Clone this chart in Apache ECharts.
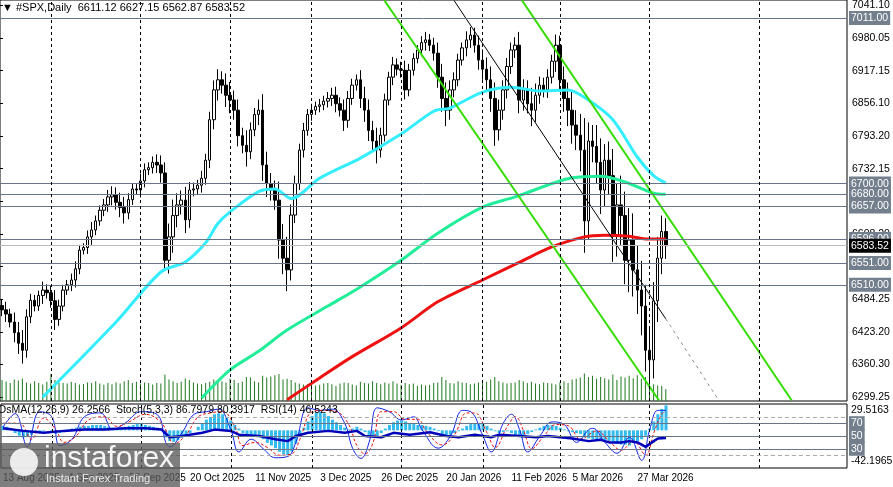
<!DOCTYPE html>
<html><head><meta charset="utf-8">
<script src="https://cdn.jsdelivr.net/npm/echarts@6/dist/echarts.min.js"></script>
<style>html,body{margin:0;padding:0;background:#fff}#c{width:893px;height:487px}</style>
</head><body><div id="c"></div>
<script>
const closes=[6463,6455,6440,6420,6400,6387,6450,6481,6470,6490,6500,6495,6480,6445,6470,6500,6510,6519,6540,6575,6580,6600,6613,6630,6650,6660,6675,6679,6665,6655,6645,6670,6690,6688,6705,6726,6730,6740,6735,6720,6556,6600,6640,6660,6669,6632,6688,6690,6697,6710,6744,6820,6876,6895,6885,6866,6857,6838,6790,6772,6760,6801,6830,6838,6735,6700,6688,6669,6594,6560,6538,6641,6700,6763,6800,6830,6838,6845,6848,6855,6860,6866,6850,6838,6819,6860,6885,6895,6860,6838,6800,6780,6763,6791,6857,6900,6923,6915,6913,6876,6913,6935,6951,6965,6970,6960,6945,6900,6860,6838,6876,6895,6932,6955,6970,6979,6960,6932,6915,6895,6860,6801,6838,6876,6920,6951,6960,6857,6876,6850,6838,6866,6885,6876,6900,6930,6960,6895,6860,6838,6810,6791,6763,6630,6780,6770,6740,6688,6744,6715,6603,6660,6640,6556,6594,6538,6500,6470,6387,6369,6480,6560,6610,6583.52];
const wicks=[12,15,10,18,20,25,14,12,10,9,16,11,13,20,12,10,9,12,14,10,8,12,15,10,9,11,13,16,14,18,20,12,10,9,14,12,10,11,15,18,20,25,30,22,18,25,15,12,10,14,12,15,18,20,16,22,25,18,20,15,28,14,12,20,30,25,20,18,35,30,40,20,15,12,14,10,12,9,11,10,12,14,16,12,20,14,12,10,18,22,20,18,25,14,12,10,15,12,14,18,12,10,9,12,15,11,14,20,25,30,18,14,12,10,16,15,14,18,20,22,25,30,20,18,16,14,15,25,20,18,30,22,16,14,15,12,20,18,25,30,35,28,40,60,35,30,40,45,30,35,50,40,55,45,60,50,45,55,40,45,35,40,30,25];
const volumes=[70,65,60,72,68,75,62,58,66,60,55,64,90,70,62,60,58,64,60,55,57,62,60,66,58,54,60,56,62,58,66,70,60,64,58,62,60,55,60,58,88,72,66,60,64,75,70,62,58,56,60,64,72,70,66,62,75,70,60,64,80,78,66,62,84,78,82,86,90,72,74,70,62,58,55,56,60,52,54,58,60,56,50,58,62,60,55,52,64,60,58,66,60,56,62,58,66,58,54,60,56,58,50,55,52,54,60,62,80,70,60,58,66,62,60,56,58,62,66,64,72,80,66,62,58,60,62,70,66,60,64,58,56,62,60,58,55,62,66,60,72,74,78,92,80,84,74,80,76,72,88,70,82,78,84,76,86,74,80,64,56,52,50,40];
const ma50=[[10,6299],[28,6440],[39,6534],[45,6553],[50,6589],[53,6625],[56,6647],[63,6685],[67,6690],[71,6672],[78,6710],[88,6748],[98,6793],[106,6836],[110,6842],[118,6872],[125,6881],[132,6874],[139,6876],[144,6857],[150,6820],[156,6750],[160,6715],[163,6701]];
const ma100=[[49,6297],[56,6350],[63,6385],[70,6425],[80,6470],[88,6506],[98,6556],[107,6607],[118,6656],[126,6675],[140,6711],[147,6714],[153,6703],[160,6682],[163,6680]];
const ma200=[[70,6294],[78,6335],[86,6375],[98,6429],[107,6478],[118,6519],[127,6552],[135,6581],[143,6600],[148,6603],[154,6601],[158,6596],[163,6596]];
const channelLower=[[93.9,7044],[161.3,6293]];
const channelUpper=[[127.7,7044],[193.9,6293]];
const trendSolid=[[111,7044],[163,6446]];
const trendDotted=[[163,6446],[176,6293]];
const levels=[7011,6700,6680,6657,6596,6551,6510];
const lastPrice=6583.52;
const monthLines=[12,34,56,76,98,118,137,159,186];
const priceTicks=['6299.25','6360.30','6423.20','6484.25','6545.30','6608.20','6668.20','6732.15','6793.20','6856.10','6917.15','6980.05','7041.10'];
const dateTickIdx=[0,16,31,46,62,78,93,109,125,140,156];
const dateTicks=['13 Aug 2025','4 Sep 2025','26 Sep 2025','20 Oct 2025','11 Nov 2025','3 Dec 2025','26 Dec 2025','20 Jan 2026','11 Feb 2026','5 Mar 2026','27 Mar 2026'];
const osma=[5,4,2,-3,-6,-8,-7,-5,-3,-2,-1,0,-2,-4,-3,-1,1,2,3,4,5,5,6,6,6,5,4,3,2,3,4,5,6,7,7,6,5,4,3,1,-8,-12,-13,-11,-8,-6,-3,0,4,8,12,15,18,19,18,15,11,6,2,-3,-6,-7,-6,-5,-10,-14,-17,-20,-24,-27,-28,-24,-15,-6,3,10,16,20,21,19,16,12,9,6,3,1,2,4,2,-2,-5,-7,-6,-3,2,6,9,11,11,10,8,7,6,6,5,4,2,-1,-4,-6,-5,-3,-1,2,5,7,8,8,7,5,2,-1,-3,-2,-1,-3,-6,-7,-6,-4,-2,1,3,5,6,6,5,3,1,-1,-2,-3,-4,-8,-9,-10,-11,-12,-11,-12,-14,-15,-16,-16,-17,-14,-12,-10,-6,2,10,18,24,28];
const stochMain=[[0,64],[3,85],[6,33],[9,88],[12,80],[14,35],[17,45],[20,80],[24,86],[27,60],[30,70],[34,88],[38,83],[40,40],[41,33],[44,55],[47,84],[50,88],[53,92],[56,60],[58,25],[61,45],[64,30],[67,16],[70,18],[72,40],[75,94],[78,90],[81,92],[84,70],[86,30],[88,15],[90,40],[92,94],[95,88],[98,75],[101,80],[103,60],[107,31],[110,50],[113,90],[115,88],[118,50],[120,25],[123,70],[125,84],[127,60],[129,25],[132,50],[135,72],[138,68],[141,40],[144,60],[145,62],[148,40],[151,23],[154,48],[157,12],[159,60],[161,90],[163,90]];
const stochSignal=[[0,70],[4,70],[7,45],[10,78],[13,60],[15,40],[18,50],[21,75],[25,80],[28,65],[31,72],[35,84],[39,70],[41,45],[42,38],[45,52],[48,80],[51,86],[54,88],[57,65],[59,35],[62,40],[65,32],[68,20],[71,22],[73,45],[76,88],[79,90],[82,88],[85,68],[87,35],[89,22],[91,40],[93,88],[96,88],[99,76],[102,76],[104,58],[108,36],[111,52],[114,86],[116,86],[119,55],[121,32],[124,65],[126,80],[128,58],[130,30],[133,50],[136,68],[139,66],[142,45],[145,56],[146,58],[149,42],[152,28],[155,42],[158,20],[160,55],[162,85],[163,88]];
const rsi=[[0,62],[5,58],[10,55],[15,58],[20,60],[25,60],[30,62],[35,62],[39,60],[41,48],[44,50],[49,55],[52,60],[56,58],[58,52],[63,50],[67,45],[70,42],[72,50],[75,55],[80,58],[84,55],[87,58],[89,50],[93,48],[96,55],[100,52],[105,56],[109,50],[112,48],[116,52],[120,48],[122,52],[127,50],[131,48],[134,50],[137,48],[140,46],[144,42],[147,44],[149,40],[152,40],[154,42],[156,40],[158,33],[160,42],[161,46],[163,47]];

const N=208;
const cats=[];for(let i=0;i<N;i++)cats.push(i);
const ohlc=closes.map((c,i)=>{const o=i?closes[i-1]:c+8;return [o,c,Math.min(o,c)-wicks[i],Math.max(o,c)+wicks[i]];});
const F='Liberation Sans';
const boxLabel=(t,bg)=>({show:true,position:'end',distance:2,formatter:t,color:'#fff',backgroundColor:bg,padding:[2,2,1,2],fontSize:10.5,fontFamily:F});
const levelLines=levels.map(v=>({yAxis:v,lineStyle:{color:'#66758a',width:1,type:'solid'},label:boxLabel(v.toFixed(2),'#737f8c')}));
levelLines.push({yAxis:lastPrice,lineStyle:{color:'#bbbbbb',width:1,type:'solid'},label:boxLabel(lastPrice.toFixed(2),'#000')});
const vlines=monthLines.map(i=>({xAxis:i}));
const vStyle={color:'#000',width:1,type:[3,3]};
const chart=echarts.init(document.getElementById('c'),null,{renderer:'canvas'});
chart.setOption({
animation:false,backgroundColor:'#fff',
grid:[{left:0,right:46,top:0,height:401,show:true,borderColor:'#000',borderWidth:1},
      {left:0,right:46,top:2,height:395},
      {left:0,right:46,top:404,height:64,show:true,borderColor:'#000',borderWidth:1}],
xAxis:[{type:'category',data:cats,gridIndex:0,show:false,boundaryGap:true},
       {type:'value',gridIndex:0,min:-0.5,max:N-0.5,show:false},
       {type:'value',gridIndex:1,min:0,max:1,show:false},
       {type:'category',data:cats,gridIndex:2,boundaryGap:true,axisLine:{show:false},axisTick:{show:false},
        axisLabel:{interval:(i)=>dateTickIdx.includes(i),align:'left',margin:5,color:'#000',fontSize:10,fontFamily:F,
          formatter:(v,idx)=>{const k=dateTickIdx.indexOf(Number(v));return k>=0?dateTicks[k]:'';}}}],
yAxis:[{type:'value',gridIndex:0,min:6291.7,max:7044.9,show:false,scale:true},
       {type:'value',gridIndex:0,min:0,max:1337,show:false},
       {type:'value',gridIndex:1,position:'right',min:6299.25,max:7041.1,interval:(7041.1-6299.25)/12,
        axisLine:{show:false},axisTick:{show:true,length:3,lineStyle:{color:'#000'}},splitLine:{show:false},
        axisLabel:{color:'#000',fontSize:10.5,fontFamily:F,margin:5,formatter:(v)=>{const k=Math.round((v-6299.25)/((7041.1-6299.25)/12));return priceTicks[k]||'';}}},
       {type:'value',gridIndex:2,min:-42.1965,max:29.5163,show:false},
       {type:'value',gridIndex:2,min:0,max:100,show:false}],
series:[
 {type:'bar',xAxisIndex:0,yAxisIndex:1,data:volumes,barWidth:1,itemStyle:{color:'#1f7a1f'},silent:true},
 {type:'candlestick',xAxisIndex:0,yAxisIndex:0,data:ohlc,barWidth:3,
  itemStyle:{color:'#fff',color0:'#000',borderColor:'#000',borderColor0:'#000',borderWidth:1},
  markLine:{symbol:'none',silent:true,animation:false,data:levelLines}},
 {type:'line',xAxisIndex:0,yAxisIndex:0,data:[],markLine:{symbol:'none',silent:true,label:{show:false},lineStyle:vStyle,data:vlines}},
 {type:'line',xAxisIndex:1,yAxisIndex:0,data:ma50,showSymbol:false,smooth:0.3,lineStyle:{color:'#33eeff',width:3}},
 {type:'line',xAxisIndex:1,yAxisIndex:0,data:ma100,showSymbol:false,smooth:0.3,lineStyle:{color:'#22ee99',width:3}},
 {type:'line',xAxisIndex:1,yAxisIndex:0,data:ma200,showSymbol:false,smooth:0.3,lineStyle:{color:'#ee1111',width:3}},
 {type:'line',xAxisIndex:1,yAxisIndex:0,data:channelLower,showSymbol:false,lineStyle:{color:'#33dd00',width:2},clip:true},
 {type:'line',xAxisIndex:1,yAxisIndex:0,data:channelUpper,showSymbol:false,lineStyle:{color:'#33dd00',width:2},clip:true},
 {type:'line',xAxisIndex:1,yAxisIndex:0,data:trendSolid,showSymbol:false,lineStyle:{color:'#000',width:1},clip:true},
 {type:'line',xAxisIndex:1,yAxisIndex:0,data:trendDotted,showSymbol:false,lineStyle:{color:'#888',width:1,type:[3,4]},clip:true},
 {type:'bar',xAxisIndex:3,yAxisIndex:3,data:osma,barWidth:3,itemStyle:{color:'#33bbee'},
  markLine:{symbol:'none',silent:true,label:{show:false},lineStyle:vStyle,data:vlines}},
 {type:'line',xAxisIndex:3,yAxisIndex:4,data:stochMain,showSymbol:false,smooth:0.4,lineStyle:{color:'#1122ee',width:1},
  markLine:{symbol:'none',silent:true,data:[
   {yAxis:80,lineStyle:{color:'#aaa',type:[4,3],width:1},label:{show:false}},
   {yAxis:20,lineStyle:{color:'#aaa',type:[4,3],width:1},label:{show:false}},
   {yAxis:70,lineStyle:{color:'#66758a',type:'solid',width:1},label:boxLabel('70','#737f8c')},
   {yAxis:50,lineStyle:{color:'#66758a',type:'solid',width:1},label:boxLabel('50','#737f8c')},
   {yAxis:30,lineStyle:{color:'#66758a',type:'solid',width:1},label:boxLabel('30','#737f8c')}]}},
 {type:'line',xAxisIndex:3,yAxisIndex:4,data:stochSignal,showSymbol:false,smooth:0.4,lineStyle:{color:'#ee1111',width:1,type:[3,2]}},
 {type:'line',xAxisIndex:3,yAxisIndex:4,data:rsi,showSymbol:false,lineStyle:{color:'#0000bb',width:2.5}}
],
graphic:[
 {type:'text',left:2,top:2,style:{text:'\u25BC #SPX,Daily  6611.12 6627.15 6562.87 6583.52',font:'11px "Liberation Sans"',fill:'#000'},z:100},
 {type:'text',left:-2,top:405,style:{text:'OsMA(12,26,9) 26.2566  Stoch(5,3,3) 86.7979 80.3917  RSI(14) 46.5243',font:'10.5px "Liberation Sans"',fill:'#000'},z:100},
 {type:'text',left:851,top:405,style:{text:'29.5163',font:'10.5px "Liberation Sans"',fill:'#000'},z:100},
 {type:'text',left:851,top:456,style:{text:'-42.1965',font:'10.5px "Liberation Sans"',fill:'#000'},z:100},
 {type:'rect',left:0,top:443,shape:{width:180,height:44},style:{fill:'rgba(90,90,90,0.78)'},z:200},
 {type:'circle',left:10,top:448,shape:{r:14},style:{fill:'rgba(255,255,255,0.85)'},z:201},
 {type:'text',left:44,top:444,style:{text:'instaforex',font:'30px "Liberation Sans"',fill:'rgba(255,255,255,0.92)'},z:201},
 {type:'text',left:46,top:473,style:{text:'Instant Forex Trading',font:'11px "Liberation Sans"',fill:'rgba(255,255,255,0.85)'},z:201}
]});
</script></body></html>
